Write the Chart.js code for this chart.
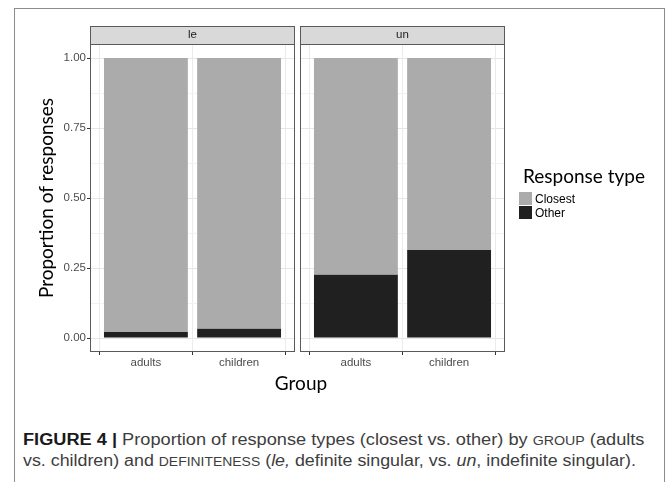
<!DOCTYPE html>
<html><head><meta charset="utf-8">
<script src="https://cdn.jsdelivr.net/npm/chart.js@4"></script>
<style>
html,body{margin:0;padding:0;background:#fff;}
body{width:669px;height:482px;position:relative;overflow:hidden;}
#frame{position:absolute;left:14px;top:8px;width:651px;height:500px;border:1px solid #8c8c8c;box-sizing:border-box;}
#cA{position:absolute;left:0;top:0;}
#cB{position:absolute;left:295px;top:0;}
#xtitle{position:absolute;left:201px;width:200px;top:371px;text-align:center;font-family:Lato;font-size:19px;line-height:24px;color:#000;}
.cap{position:absolute;left:23px;white-space:nowrap;font-family:"Liberation Sans";font-size:16px;line-height:21px;color:#3d3d3d;transform-origin:0 0;}
.sc{font-size:12.5px;}
</style></head><body>
<div id="frame"></div>
<canvas id="cA" width="300" height="380"></canvas>
<canvas id="cB" width="374" height="380"></canvas>
<div id="xtitle">Group</div>
<div class="cap" id="cap1" style="top:429px"><b style="color:#1a1a1a">FIGURE 4 |</b> Proportion of response types (closest vs. other) by <span class="sc">GROUP</span> (adults</div>
<div class="cap" id="cap2" style="top:450px">vs. children) and <span class="sc">DEFINITENESS</span> (<i>le,</i> definite singular, vs. <i>un</i>, indefinite singular).</div>
<script>
// ---- data ----
const groups = ['adults', 'children'];
const panels = ['le', 'un'];
const responseTypes = ['Closest', 'Other'];
const leOther = [0.021, 0.033];
const leClosest = [0.979, 0.967];
const unOther = [0.226, 0.314];
const unClosest = [0.774, 0.686];
const yTickValues = [0, 0.25, 0.5, 0.75, 1];
const yTitle = 'Proportion of responses';
const legendTitle = 'Response type';

// ---- styles ----
const fillColors = { Closest: '#ababab', Other: '#202020' };
const isMajor = v => yTickValues.some(t => Math.abs(t - v) < 1e-9);

const panelPlugin = {
  id: 'panel',
  afterDraw(chart, args, opts) {
    const ctx = chart.ctx, a = chart.chartArea;
    ctx.save();
    ctx.fillStyle = '#d9d9d9';
    ctx.fillRect(a.left, a.top - 18, a.right - a.left, 18);
    ctx.strokeStyle = '#595959';
    ctx.lineWidth = 1;
    ctx.strokeRect(a.left + 0.5, a.top - 18 + 0.5, a.right - a.left - 1, 18);
    ctx.strokeRect(a.left + 0.5, a.top + 0.5, a.right - a.left - 1, a.bottom - a.top - 1);
    ctx.fillStyle = '#1a1a1a';
    ctx.font = '11.5px "Liberation Sans"';
    ctx.textAlign = 'center';
    ctx.textBaseline = 'middle';
    ctx.fillText(opts.text, (a.left + a.right) / 2, a.top - 9);
    if (opts.legend) {
      const lx = a.right + 14;
      ctx.textAlign = 'left';
      ctx.fillStyle = '#000';
      ctx.font = '19px Lato';
      ctx.fillText(legendTitle, lx + 4, 177);
      const items = chart.data.datasets.slice().reverse();
      items.forEach((d, i) => {
        const ky = 192 + i * 14;
        ctx.fillStyle = d.backgroundColor;
        ctx.fillRect(lx, ky, 13, 13);
        ctx.fillStyle = '#000';
        ctx.font = '12px "Liberation Sans"';
        ctx.fillText(d.label, lx + 16, ky + 7.5);
      });
    }
    ctx.restore();
  }
};

function makeChart(id, panelName, other, closest, isLeft) {
  const datasets = [
    { label: responseTypes[1], data: other.map((v, i) => ({ x: i + 1, y: v })), backgroundColor: fillColors.Other },
    { label: responseTypes[0], data: closest.map((v, i) => ({ x: i + 1, y: v })), backgroundColor: fillColors.Closest }
  ];
  return new Chart(document.getElementById(id), {
    type: 'bar',
    data: { datasets },
    options: {
      responsive: false, animation: false, devicePixelRatio: 1,
      layout: { padding: isLeft ? { left: 0, right: 5, top: 44, bottom: 0 } : { left: 5, right: 164, top: 44, bottom: 0 } },
      datasets: { bar: { categoryPercentage: 1, barPercentage: 0.9, borderWidth: 0 } },
      plugins: { legend: { display: false }, tooltip: { enabled: false }, panel: { text: panelName, legend: !isLeft } },
      scales: {
        x: {
          type: 'linear', stacked: true, min: 0.4, max: 2.6, offset: false,
          afterBuildTicks: s => { s.ticks = groups.map((g, i) => ({ value: i + 1 })); },
          afterFit: s => { s.height = 28; },
          ticks: { callback: v => groups[Math.round(v) - 1], font: { family: 'Liberation Sans', size: 11.5 }, color: '#4d4d4d', padding: 1, maxRotation: 0, autoSkip: false },
          grid: { color: '#ebebeb', lineWidth: 1, tickLength: 3, tickColor: '#333', drawTicks: true },
          border: { display: false }
        },
        y: {
          type: 'linear', stacked: true, min: -0.05, max: 1.05,
          afterBuildTicks: s => {
            const t = [];
            yTickValues.forEach((v, i) => {
              t.push({ value: v });
              if (i < yTickValues.length - 1) t.push({ value: (v + yTickValues[i + 1]) / 2 });
            });
            s.ticks = t;
          },
          afterFit: s => { s.width = isLeft ? 90 : 0; },
          ticks: { display: isLeft, callback: v => isMajor(v) ? v.toFixed(2) : '', font: { family: 'Liberation Sans', size: 11.5 }, color: '#4d4d4d', padding: 1, autoSkip: false },
          grid: {
            color: c => isMajor(c.tick.value) ? '#e6e6e6' : '#f2f2f2',
            lineWidth: 1, tickLength: 3, drawTicks: isLeft,
            tickColor: c => isMajor(c.tick.value) ? '#333' : 'rgba(0,0,0,0)'
          },
          border: { display: false },
          title: isLeft ? { display: true, text: yTitle, font: { family: 'Lato', size: 19 }, color: '#000', padding: { top: 35, bottom: 0 } } : { display: false }
        }
      }
    },
    plugins: [panelPlugin]
  });
}

function fitCaption(id, target) {
  const el = document.getElementById(id);
  const w = el.offsetWidth;
  el.style.transform = 'scaleX(' + (target / w) + ')';
}

makeChart('cA', panels[0], leOther, leClosest, true);
makeChart('cB', panels[1], unOther, unClosest, false);
fitCaption('cap1', 622);
fitCaption('cap2', 613);
</script>
</body></html>
